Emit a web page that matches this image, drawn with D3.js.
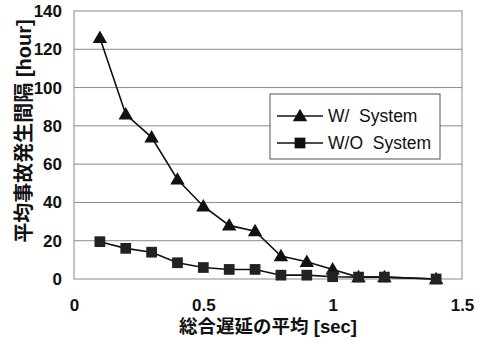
<!DOCTYPE html>
<html><head><meta charset="utf-8">
<script src="https://cdn.jsdelivr.net/npm/d3@7"></script>
<style>
html,body{margin:0;padding:0;background:#fff;}
text{font-family:"Liberation Sans","Noto Sans CJK JP",sans-serif;}
</style></head>
<body><svg id="c" width="480" height="342"></svg>
<script>
const xWith = [0.1,0.2,0.3,0.4,0.5,0.6,0.7,0.8,0.9,1.0,1.1,1.2,1.4];
const yWith = [126,86,74,52,38,28,25,12,9,5,1,1,0];
const xWithout = [0.1,0.2,0.3,0.4,0.5,0.6,0.7,0.8,0.9,1.0,1.1,1.2,1.4];
const yWithout = [19.5,16,14,8.5,6,5,5,2,2,1.2,1,1,0];
const yTicks = [0,20,40,60,80,100,120,140];
const xTicks = [0,0.5,1,1.5];
const seriesNames = ["W/\u00a0\u00a0System","W/O\u00a0\u00a0System"];
const xTitle = "総合遅延の平均 [sec]";
const yTitle = "平均事故発生間隔 [hour]";

const svg = d3.select("#c");
const L=74,R=462,T=11,B=279;
const x = d3.scaleLinear().domain([0,1.5]).range([L,R]);
const y = d3.scaleLinear().domain([0,140]).range([B,T]);

svg.append("g").selectAll("line").data(yTicks.filter(d=>d>0&&d<140)).join("line")
  .attr("x1",L).attr("x2",R).attr("y1",d=>y(d)).attr("y2",d=>y(d))
  .attr("stroke","#8a8a8a").attr("stroke-width",1);
svg.append("rect").attr("x",L).attr("y",T).attr("width",R-L).attr("height",B-T)
  .attr("fill","none").attr("stroke","#8a8a8a").attr("stroke-width",1);

const ya = svg.append("g").attr("transform",`translate(${L},0)`)
  .call(d3.axisLeft(y).tickValues(yTicks).tickSize(0).tickPadding(12));
ya.select(".domain").remove();
ya.selectAll("text").attr("font-size",17).attr("font-weight","bold").attr("fill","#111")
  .attr("font-family","Liberation Sans, Arial, sans-serif");

const xa = svg.append("g").attr("transform",`translate(0,${B})`)
  .call(d3.axisBottom(x).tickValues(xTicks).tickSize(0).tickPadding(20).tickFormat(d3.format("")));
xa.select(".domain").remove();
xa.selectAll("text").attr("font-size",17).attr("font-weight","bold").attr("fill","#111")
  .attr("font-family","Liberation Sans, Arial, sans-serif");

svg.append("text").attr("x",268).attr("y",333).attr("text-anchor","middle")
  .attr("font-size",18.5).attr("font-weight","bold").attr("fill","#111")
  .attr("font-family","Noto Sans CJK JP, sans-serif").text(xTitle);
svg.append("text").attr("transform","translate(31,131) rotate(-90)").attr("text-anchor","middle")
  .attr("font-size",20).attr("font-weight","bold").attr("fill","#111")
  .attr("font-family","Noto Sans CJK JP, sans-serif").text(yTitle);

const line = d3.line().x(d=>x(d[0])).y(d=>y(d[1]));
const dWith = xWith.map((v,i)=>[v,yWith[i]]);
const dWithout = xWithout.map((v,i)=>[v,yWithout[i]]);
const tri = d3.symbol().type(d3.symbolTriangle).size(90);
const sq = d3.symbol().type(d3.symbolSquare).size(115);

svg.append("path").datum(dWithout).attr("d",line).attr("fill","none").attr("stroke","#111").attr("stroke-width",1.6);
svg.append("path").datum(dWith).attr("d",line).attr("fill","none").attr("stroke","#111").attr("stroke-width",1.6);
svg.append("g").selectAll("path").data(dWith).join("path")
  .attr("d",tri).attr("transform",d=>`translate(${x(d[0])},${y(d[1])+1})`).attr("fill","#111");
svg.append("g").selectAll("path").data(dWithout).join("path")
  .attr("d",sq).attr("transform",d=>`translate(${x(d[0])},${y(d[1])})`).attr("fill","#222");

const lg = svg.append("g");
lg.append("rect").attr("x",270).attr("y",94).attr("width",170).attr("height",65)
  .attr("fill","#fff").attr("stroke","#555").attr("stroke-width",1);
const ly=[116,143];
seriesNames.forEach((n,i)=>{
  lg.append("line").attr("x1",277).attr("x2",323).attr("y1",ly[i]).attr("y2",ly[i]).attr("stroke","#111").attr("stroke-width",1.6);
  lg.append("path").attr("d",i===0?tri:sq).attr("transform",`translate(300,${ly[i]+(i===0?1:0)})`).attr("fill","#111");
  lg.append("text").attr("x",328).attr("y",ly[i]+6).attr("font-size",17.5).attr("fill","#111")
    .attr("font-family","Liberation Sans, Arial, sans-serif").text(n);
});
</script></body></html>
